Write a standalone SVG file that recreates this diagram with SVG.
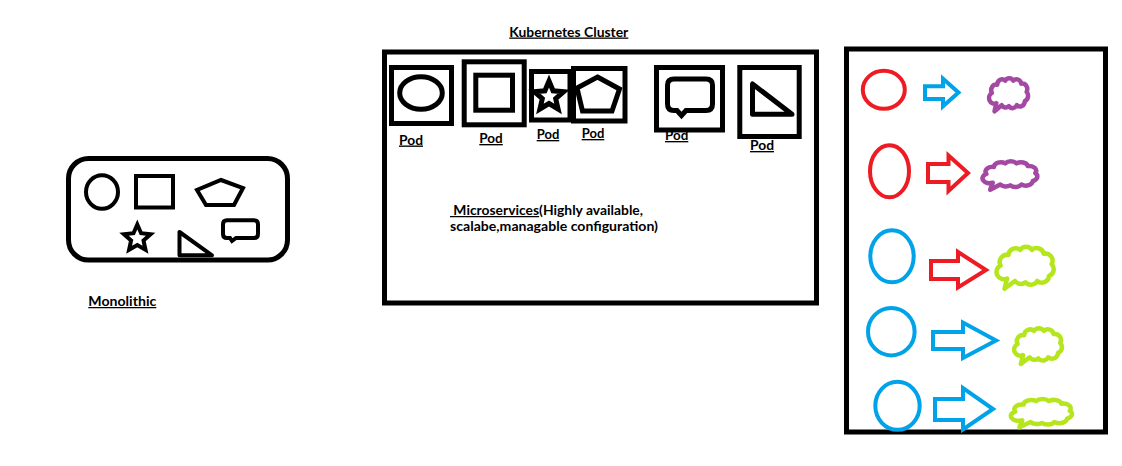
<svg xmlns="http://www.w3.org/2000/svg" xmlns:xlink="http://www.w3.org/1999/xlink" width="1122" height="466" viewBox="0 0 1122 466">
<style>
.k{fill:none;stroke:#000;stroke-width:5}
.k4{fill:none;stroke:#000;stroke-width:4}
.t{font-family:Lato,"Liberation Sans",sans-serif;font-weight:bold;fill:#000;text-decoration:underline}
.t2{font-family:Lato,"Liberation Sans",sans-serif;font-weight:bold;fill:#000}
.red{fill:none;stroke:#ED1C24;stroke-width:4}
.blue{fill:none;stroke:#00A2E8;stroke-width:4}
.purple{fill:none;stroke:#A349A4;stroke-width:4.5}
.green{fill:none;stroke:#B5E61D;stroke-width:4.5}
</style>
<defs>
<path id="cloud" vector-effect="non-scaling-stroke" stroke-linejoin="round" d="M12,32 a11,11 0 0 1 12,-16 a11,11 0 0 1 18,-8 a11,11 0 0 1 18,0 a11,11 0 0 1 18,6 a11,11 0 0 1 12,16 a11,11 0 0 1 -4,18 a11,11 0 0 1 -18,8 a11,11 0 0 1 -18,2 a11,11 0 0 1 -16,-2 L18,68 L22,52 a11,11 0 0 1 -10,-20 Z"/>
</defs>
<rect width="1122" height="466" fill="#fff"/>

<g id="monolith">
<rect class="k" x="68.5" y="158.5" width="219" height="101.5" rx="20"/>
<ellipse class="k4" cx="102" cy="192" rx="16" ry="16.7"/>
<rect class="k4" x="136" y="176" width="37" height="31.5"/>
<polygon class="k4" points="221,180 243,188 234,205 206,205 197,190"/>
<polygon class="k4" points="137.3,224.5 141.1,233.2 150.6,234.2 143.5,240.5 145.5,249.8 137.3,245 129.1,249.8 131.1,240.5 124,234.2 133.5,233.2"/>
<polygon class="k4" stroke-linejoin="round" points="179.5,232 179.5,255.3 212,255.3"/>
<path class="k4" d="M227,220.3 H254 Q258,220.3 258,224.3 V234 Q258,238 254,238 H236 L232,241 L230,238 H227 Q223,238 223,234 V224.3 Q223,220.3 227,220.3 Z"/>
<text class="t" x="88.3" y="306" font-size="12.5" textLength="68" lengthAdjust="spacingAndGlyphs">Monolithic</text>
</g>

<g id="cluster">
<text class="t" x="509.3" y="36.5" font-size="13" textLength="119" lengthAdjust="spacingAndGlyphs">Kubernetes Cluster</text>
<rect class="k" x="384.5" y="52" width="432" height="251"/>
<text class="t2" x="450" y="215" font-size="12.5" xml:space="preserve" textLength="193" lengthAdjust="spacingAndGlyphs"><tspan text-decoration="underline"> Microservices</tspan>(Highly available,</text>
<text class="t2" x="450" y="231" font-size="12.5" textLength="208" lengthAdjust="spacingAndGlyphs">scalabe,managable configuration)</text>
</g>

<g id="pod1">
<rect class="k" x="391.5" y="67.5" width="60" height="56"/>
<ellipse class="k" cx="421" cy="93" rx="21.3" ry="16.2"/>
<text class="t" x="399" y="144.5" font-size="13.5" textLength="24" lengthAdjust="spacingAndGlyphs">Pod</text>
</g>
<g id="pod2">
<rect class="k" x="464.2" y="61.8" width="60" height="63"/>
<rect class="k" x="475.8" y="75.2" width="36.7" height="35"/>
<text class="t" x="479.3" y="143" font-size="13.5" textLength="23.5" lengthAdjust="spacingAndGlyphs">Pod</text>
</g>
<g id="pod3">
<rect class="k" x="531.5" y="71.5" width="38.5" height="48.5"/>
<polygon class="k" points="549,81 553.1,90.8 563.7,91.7 555.7,98.7 558.1,109 549,103.5 539.9,109 542.3,98.7 534.3,91.7 544.9,90.8"/>
<text class="t" x="536.7" y="139" font-size="13.5" textLength="22.6" lengthAdjust="spacingAndGlyphs">Pod</text>
</g>
<g id="pod4">
<rect class="k" x="573.5" y="68.5" width="51.5" height="52.5"/>
<polygon class="k" points="597.5,77 619.5,89 612,111 582.5,111 577,88"/>
<text class="t" x="581.7" y="138" font-size="13.5" textLength="22.6" lengthAdjust="spacingAndGlyphs">Pod</text>
</g>
<g id="pod5">
<rect class="k" x="656.5" y="67.5" width="66" height="62.5"/>
<path class="k" d="M674,79 H706 Q712.5,79 712.5,85 V104 Q712.5,110.5 706,110.5 H686 L681.5,115.5 L677,110.5 H674 Q667.5,110.5 667.5,104 V85 Q667.5,79 674,79 Z"/>
<text class="t" x="665" y="140" font-size="13.5" textLength="23.3" lengthAdjust="spacingAndGlyphs">Pod</text>
</g>
<g id="pod6">
<rect class="k" x="739.8" y="67.5" width="59.4" height="69"/>
<polygon class="k" stroke-linejoin="round" points="752.5,84 752.5,114.2 792,114.2"/>
<text class="t" x="750" y="150" font-size="13.5" textLength="24" lengthAdjust="spacingAndGlyphs">Pod</text>
</g>

<g id="scaling-panel">
<rect class="k" x="846.5" y="49" width="259" height="383"/>
</g>
<g id="row1">
<ellipse class="red" cx="883.8" cy="89.8" rx="21" ry="19"/>
<use href="#cloud" class="purple" transform="translate(986.5,76.5) scale(0.446,0.512)"/>
</g>
<g id="row2">
<ellipse class="red" cx="889.5" cy="171.2" rx="19.5" ry="26"/>
<use href="#cloud" class="purple" transform="translate(978.9,159.9) scale(0.627,0.439)"/>
</g>
<g id="row3">
<ellipse class="blue" cx="892" cy="256.3" rx="21.7" ry="26"/>
<use href="#cloud" class="green" transform="translate(992.7,244.7) scale(0.655,0.648)"/>
</g>
<g id="row4">
<ellipse class="blue" cx="891.3" cy="331.7" rx="23.3" ry="23.7"/>
<use href="#cloud" class="green" transform="translate(1011,326.4) scale(0.547,0.552)"/>
</g>
<g id="row5">
<ellipse class="blue" cx="897.5" cy="405.8" rx="22.2" ry="24"/>
<use href="#cloud" class="green" transform="translate(1006.8,397.6) scale(0.7,0.437)"/>
</g>

<g id="connectors">
<polygon class="blue" points="925,86.3 943,86.3 943,78.7 958.5,92.5 943,106.3 943,99 925,99"/>
<polygon class="red" points="928,164 948.5,164 948.5,155.5 968,173 948.5,191 948.5,182 928,182"/>
<polygon class="red" points="931,261 958,261 958,252 986,270 958,287.5 958,279 931,279"/>
<polygon class="blue" points="933,332 963,332 963,322.5 996,340.5 963,358 963,349 933,349"/>
<polygon class="blue" points="935,399 963,399 963,388 993,409 963,429.5 963,420 935,420"/>
</g>
</svg>
